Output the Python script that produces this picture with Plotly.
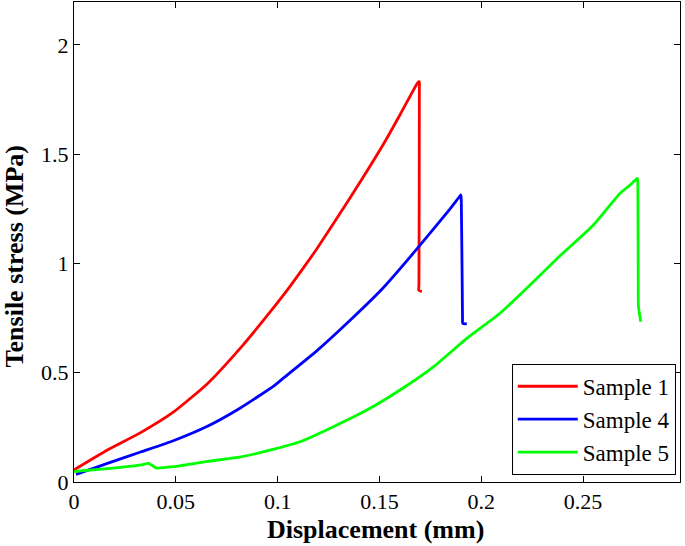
import plotly.graph_objects as go

# Sample 1 (red)
s1_x = [0.0, 0.0164, 0.0327, 0.0491, 0.0655, 0.0819, 0.0982, 0.106, 0.113, 0.1192,
        0.1356, 0.152, 0.1601, 0.1683, 0.1692, 0.1696, 0.1696, 0.1694, 0.1693, 0.1708]
s1_y = [0.055, 0.146, 0.226, 0.322, 0.45, 0.615, 0.80, 0.894, 0.984, 1.066,
        1.30, 1.546, 1.68, 1.82, 1.831, 1.831, 1.80, 0.90, 0.878, 0.871]

# Sample 4 (blue)
s4_x = [0.001, 0.008, 0.0164, 0.0327, 0.0491, 0.0655, 0.0819, 0.0982, 0.1028,
        0.1192, 0.1356, 0.152, 0.1683, 0.1847, 0.1895, 0.190, 0.1902, 0.1908, 0.1909, 0.1929]
s4_y = [0.035, 0.058, 0.085, 0.137, 0.19, 0.255, 0.34, 0.44, 0.475,
        0.60, 0.74, 0.89, 1.065, 1.25, 1.308, 1.313, 1.29, 0.75, 0.726, 0.723]

# Sample 5 (green)
s5_x = [0.0, 0.015, 0.026, 0.033, 0.0365, 0.0385, 0.0406, 0.049, 0.0655, 0.0819,
        0.0982, 0.111, 0.1274, 0.1438, 0.1601, 0.1765, 0.1929, 0.2092, 0.2256, 0.2387,
        0.2551, 0.2682, 0.2731, 0.2762, 0.2767, 0.2769, 0.2771, 0.2772, 0.2783]
s5_y = [0.048, 0.06, 0.07, 0.078, 0.085, 0.075, 0.064, 0.07, 0.094, 0.115,
        0.15, 0.184, 0.253, 0.329, 0.421, 0.527, 0.657, 0.772, 0.916, 1.035,
        1.176, 1.321, 1.359, 1.386, 1.389, 1.36, 0.85, 0.802, 0.733]

x_ticks = [0, 0.05, 0.1, 0.15, 0.2, 0.25]
x_tick_labels = ["0", "0.05", "0.1", "0.15", "0.2", "0.25"]
y_ticks = [0, 0.5, 1, 1.5, 2]
y_tick_labels = ["0", "0.5", "1", "1.5", "2"]

FONT = "Liberation Serif"

fig = go.Figure()
for name, xs, ys, col in [("Sample 1", s1_x, s1_y, "#ff0000"),
                          ("Sample 4", s4_x, s4_y, "#0000ff"),
                          ("Sample 5", s5_x, s5_y, "#00ff00")]:
    fig.add_trace(go.Scatter(x=xs, y=ys, mode="lines", name=name,
                             line=dict(color=col, width=2.8, shape="spline", smoothing=0.5)))

axis_common = dict(showline=True, linecolor="black", linewidth=1, mirror="ticks",
                   ticks="inside", ticklen=6, tickcolor="black", tickwidth=1,
                   showgrid=False, zeroline=False,
                   tickfont=dict(family=FONT, size=22, color="black"))

fig.update_layout(
    width=685, height=546,
    margin=dict(l=74, r=5, t=2, b=64),
    paper_bgcolor="white", plot_bgcolor="white",
    xaxis=dict(range=[0, 0.2976], tickvals=x_ticks, ticktext=x_tick_labels, **axis_common),
    yaxis=dict(range=[0, 2.196], tickvals=y_ticks, ticktext=y_tick_labels, **axis_common),
    legend=dict(x=0.993, xanchor="right", y=0.015, yanchor="bottom",
                bgcolor="white", bordercolor="black", borderwidth=1,
                font=dict(family=FONT, size=23, color="black"),
                itemwidth=60, tracegroupgap=0),
    showlegend=True,
    annotations=[
        dict(text="Displacement (mm)", xref="paper", yref="paper", x=0.498, y=-0.098,
             xanchor="center", yanchor="middle", showarrow=False,
             font=dict(family=FONT, size=26, color="black", weight="bold")),
        dict(text="Tensile stress (MPa)", xref="paper", yref="paper", x=-0.099, y=0.47,
             xanchor="center", yanchor="middle", showarrow=False, textangle=-90,
             font=dict(family=FONT, size=26, color="black", weight="bold")),
    ],
)

fig.write_html("out.html", config={"displayModeBar": False},
               post_script="document.body.style.margin='0';")
